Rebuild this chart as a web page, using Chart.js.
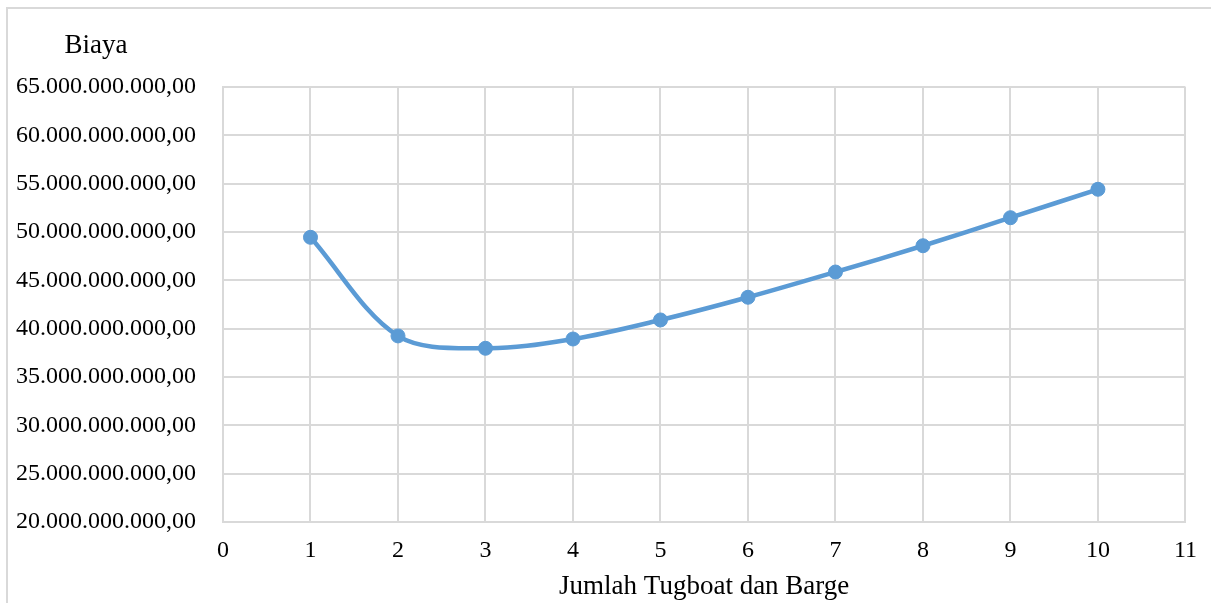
<!DOCTYPE html>
<html>
<head>
<meta charset="utf-8">
<script src="https://cdn.jsdelivr.net/npm/chart.js@4/dist/chart.umd.min.js"></script>
<style>
  html, body { margin: 0; padding: 0; background: #fff; }
  body { width: 1211px; height: 603px; position: relative; overflow: hidden; }
  .frame { position: absolute; left: 6px; top: 7px; width: 1300px; height: 700px;
           border-left: 2px solid #d9d9d9; border-top: 2px solid #d9d9d9; }
  #wrap { position: absolute; left: 0; top: 0; width: 1211px; height: 603px; }
</style>
</head>
<body>
<div class="frame"></div>
<div id="wrap"><canvas id="chart"></canvas></div>
<script>
// data
const jumlah = [1, 2, 3, 4, 5, 6, 7, 8, 9, 10];
const biaya = [49.45e9, 39.25e9, 37.97e9, 38.93e9, 40.9e9, 43.25e9, 45.86e9, 48.58e9, 51.48e9, 54.42e9];
const yTicks = [20e9, 25e9, 30e9, 35e9, 40e9, 45e9, 50e9, 55e9, 60e9, 65e9];

const FONT = "'Liberation Serif', 'Times New Roman', serif";

// 65000000000 -> "65.000.000.000,00"
function formatRupiah(v) {
    const s = Math.round(v).toString().replace(/\B(?=(\d{3})+(?!\d))/g, '.');
    return s + ',00';
}

// "Biaya" label sitting above the y axis
const yTitle = {
    id: 'yTitle',
    afterDraw(chart) {
        const ctx = chart.ctx;
        ctx.save();
        ctx.font = '27px ' + FONT;
        ctx.fillStyle = '#000';
        ctx.textAlign = 'center';
        ctx.textBaseline = 'middle';
        ctx.fillText('Biaya', 96, chart.chartArea.top - 41);
        ctx.restore();
    }
};

const ctx = document.getElementById('chart').getContext('2d');
new Chart(ctx, {
    type: 'line',
    data: {
        datasets: [{
            label: 'Biaya',
            data: jumlah.map((x, i) => ({ x: x, y: biaya[i] })),
            borderColor: '#5b9bd5',
            backgroundColor: '#5b9bd5',
            borderWidth: 4.5,
            pointRadius: 7,
            pointBorderWidth: 1,
            pointBackgroundColor: '#5b9bd5',
            pointBorderColor: '#5b9bd5',
            tension: 0.33,
            fill: false
        }]
    },
    options: {
        responsive: true,
        maintainAspectRatio: false,
        animation: false,
        layout: { padding: { left: 0, right: 24, top: 87, bottom: 0 } },
        plugins: { legend: { display: false }, tooltip: { enabled: false } },
        scales: {
            x: {
                type: 'linear',
                min: 0,
                max: 11,
                ticks: { stepSize: 1, color: '#000', font: { family: FONT, size: 24 }, padding: 14 },
                grid: { color: '#d9d9d9', lineWidth: 2, drawTicks: false },
                border: { color: '#d9d9d9', width: 2 },
                title: {
                    display: true,
                    text: 'Jumlah Tugboat dan Barge',
                    color: '#000',
                    font: { family: FONT, size: 27 },
                    padding: { top: 0, bottom: 0 }
                },
                afterFit(scale) { scale.height = 81; }
            },
            y: {
                min: 20e9,
                max: 65e9,
                afterBuildTicks(scale) { scale.ticks = yTicks.map(v => ({ value: v })); },
                ticks: {
                    color: '#000',
                    font: { family: FONT, size: 24 },
                    padding: 27,
                    callback: v => formatRupiah(v)
                },
                grid: { color: '#d9d9d9', lineWidth: 2, drawTicks: false },
                border: { color: '#d9d9d9', width: 2 },
                afterFit(scale) { scale.width = 223; }
            }
        }
    },
    plugins: [yTitle]
});
</script>
</body>
</html>
